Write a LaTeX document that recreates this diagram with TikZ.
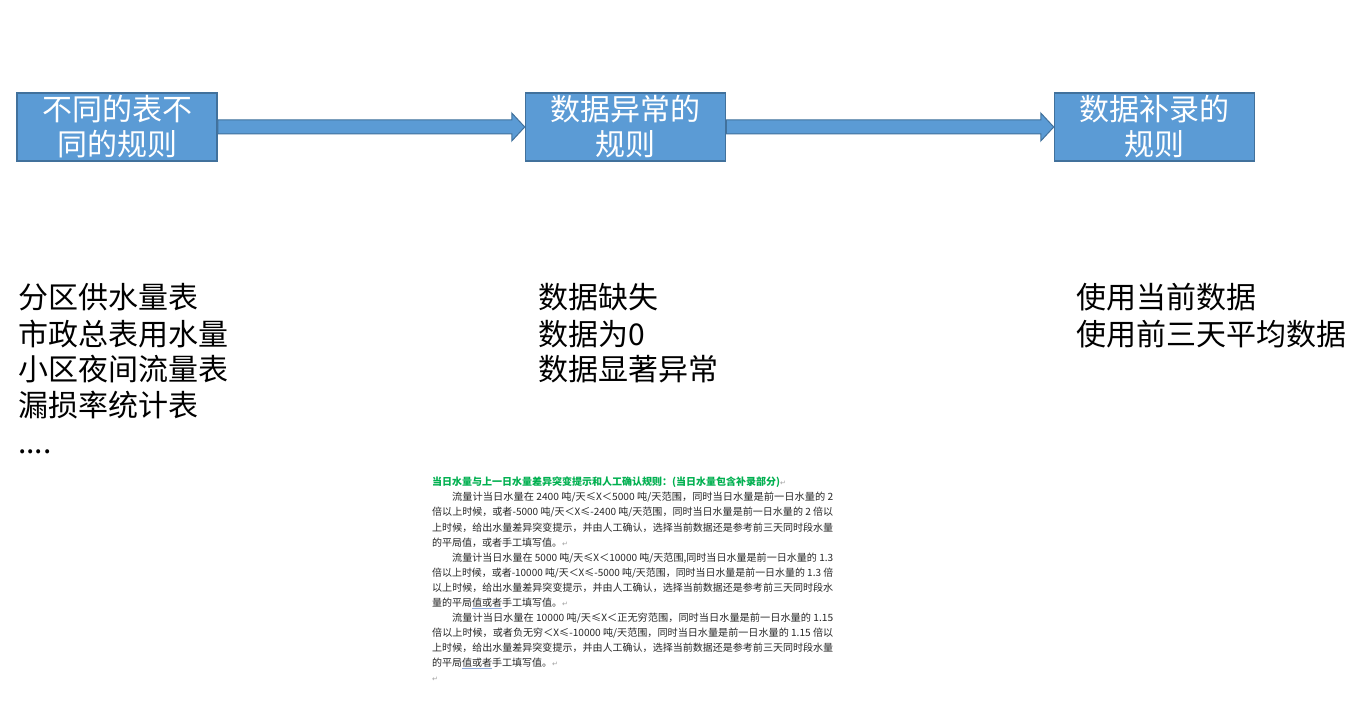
\documentclass[tikz,border=0pt]{standalone}
\usepackage{fontspec}
\usepackage{graphicx}
\setmainfont{Noto Sans CJK SC}
\newfontfamily\symfnt{DejaVu Sans}
\usetikzlibrary{calc}
\definecolor{boxfill}{HTML}{5B9BD5}
\definecolor{boxline}{HTML}{41719C}
\definecolor{titlegreen}{HTML}{00B050}
\definecolor{markgray}{HTML}{A0A0A0}
\definecolor{ulblue}{HTML}{8FAADC}
\newcommand{\pmark}{{\symfnt\color{markgray}\fontsize{7}{7}\selectfont ↵}}
\newcommand{\ulbox}[1]{\setbox0\hbox{#1}\rlap{\color{ulblue}\rule[-2.5pt]{\wd0}{0.8pt}}\box0}
\newcommand{\jline}[2]{\resizebox{#1}{\height}{#2}}
\begin{document}
\begin{tikzpicture}[x=1pt,y=-1pt,
  rulebox/.style={draw=boxline, line width=1.5pt, fill=boxfill, minimum width=200pt,
    minimum height=68pt, inner sep=0pt, text=white, align=center,
    font=\fontsize{30}{35}\selectfont},
  blockarrow/.style={draw=boxline, line width=1pt, fill=boxfill},
  listtext/.style={anchor=base west, inner sep=0pt, text=black, font=\fontsize{30}{36}\selectfont},
  small/.style={anchor=base west, inner sep=0pt, text=black!85, font=\fontsize{10}{12}\selectfont}
]
\useasboundingbox (0,0) rectangle (1358,711);
\fill[white] (0,0) rectangle (1358,711);

% boxes
\node[rulebox] (b1) at (117,127) {不同的表不\\同的规则};
\node[rulebox] (b2) at (625.5,127) {数据异常的\\规则};
\node[rulebox] (b3) at (1154.5,127) {数据补录的\\规则};

% block arrows
\draw[blockarrow] ($(b1.east)+(0,-7)$) -- ($(b2.west)+(-13,-7)$) -- ($(b2.west)+(-13,-14)$)
  -- (b2.west) -- ($(b2.west)+(-13,14)$) -- ($(b2.west)+(-13,7)$) -- ($(b1.east)+(0,7)$) -- cycle;
\draw[blockarrow] ($(b2.east)+(0,-7)$) -- ($(b3.west)+(-13,-7)$) -- ($(b3.west)+(-13,-14)$)
  -- (b3.west) -- ($(b3.west)+(-13,14)$) -- ($(b3.west)+(-13,7)$) -- ($(b2.east)+(0,7)$) -- cycle;

% lists
\node[listtext] (l1) at (18,309) {分区供水量表};
\node[listtext] (l2) at (18,345) {市政总表用水量};
\node[listtext] (l3) at (18,381) {小区夜间流量表};
\node[listtext] (l4) at (18,417) {漏损率统计表};
\node[listtext] (l5) at (18,453) {....};

\node[listtext] (m1) at (538,309) {数据缺失};
\node[listtext] (m2) at (538,345) {数据为0};
\node[listtext] (m3) at (538,381) {数据显著异常};

\node[listtext] (r1) at (1076,309) {使用当前数据};
\node[listtext] (r2) at (1076,345) {使用前三天平均数据};

% document excerpt
\node[small] (t1) at (432,485) {{\bfseries\color{titlegreen}当日水量与上一日水量差异突变提示和人工确认规则：(当日水量包含补录部分)}\pmark};
\node[small] (t2) at (452,500) {\jline{381pt}{流量计当日水量在 2400 吨/天≤X＜5000 吨/天范围，同时当日水量是前一日水量的 2}};
\node[small] (t3) at (432,515) {\jline{401pt}{倍以上时候，或者-5000 吨/天＜X≤-2400 吨/天范围，同时当日水量是前一日水量的 2 倍以}};
\node[small] (t4) at (432,531) {\jline{401pt}{上时候，给出水量差异突变提示，并由人工确认，选择当前数据还是参考前三天同时段水量}};
\node[small] (t5) at (432,546) {的平局值，或者手工填写值。\pmark};
\node[small] (t6) at (452,561) {\jline{381pt}{流量计当日水量在 5000 吨/天≤X＜10000 吨/天范围,同时当日水量是前一日水量的 1.3}};
\node[small] (t7) at (432,576) {\jline{401pt}{倍以上时候，或者-10000 吨/天＜X≤-5000 吨/天范围，同时当日水量是前一日水量的 1.3 倍}};
\node[small] (t8) at (432,591) {\jline{401pt}{以上时候，给出水量差异突变提示，并由人工确认，选择当前数据还是参考前三天同时段水}};
\node[small] (t9) at (432,606) {量的平局\ulbox{值或者}手工填写值。\pmark};
\node[small] (t10) at (452,621) {\jline{381pt}{流量计当日水量在 10000 吨/天≤X＜正无穷范围，同时当日水量是前一日水量的 1.15}};
\node[small] (t11) at (432,636) {\jline{401pt}{倍以上时候，或者负无穷＜X≤-10000 吨/天范围，同时当日水量是前一日水量的 1.15 倍以}};
\node[small] (t12) at (432,651) {\jline{401pt}{上时候，给出水量差异突变提示，并由人工确认，选择当前数据还是参考前三天同时段水量}};
\node[small] (t13) at (432,666) {的平局\ulbox{值或者}手工填写值。\pmark};
\node[small] (t14) at (432,681) {\pmark};
\end{tikzpicture}
\end{document}
